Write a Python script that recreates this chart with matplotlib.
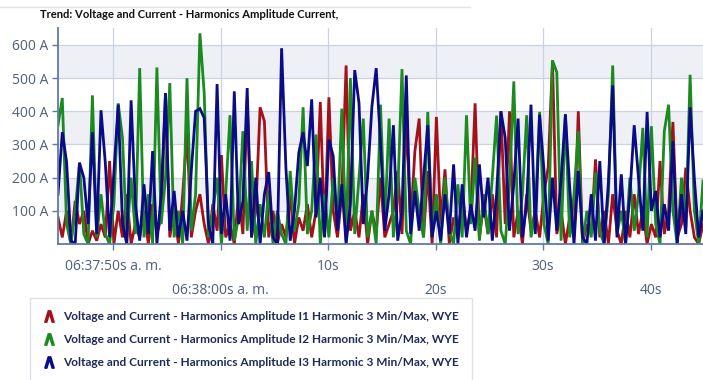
import matplotlib
matplotlib.use("Agg")
import matplotlib.pyplot as plt
from matplotlib.lines import Line2D
import numpy as np

# sample spacing and start, seconds relative to 06:37:50
start_offset = -5.12
step = 0.4

i1_amps = [80, 20, 100, 0, 130, 60, 100, 0, 40, 10,
           60, 20, 250, 0, 100, 20, 150, 0, 60, 20,
           100, 0, 120, 30, 80, 455, 20, 100, 0, 150,
           338, 20, 100, 150, 60, 0, 120, 40, 268, 20,
           60, 0, 150, 30, 436, 20, 100, 412, 370, 20,
           100, 0, 60, 20, 150, 0, 80, 40, 120, 20,
           100, 428, 30, 442, 100, 20, 150, 538, 40, 100,
           20, 150, 0, 100, 30, 200, 20, 60, 100, 220,
           30, 378, 60, 280, 378, 20, 220, 0, 383, 60,
           225, 0, 80, 20, 150, 40, 100, 424, 20, 120,
           30, 150, 20, 400, 60, 400, 20, 100, 0, 150,
           40, 100, 20, 150, 232, 553, 30, 100, 0, 80,
           20, 400, 0, 60, 30, 255, 20, 100, 0, 150,
           40, 0, 100, 20, 150, 30, 100, 0, 60, 20,
           250, 30, 100, 368, 20, 60, 230, 100, 20, 0,
           60]

i2_amps = [358, 440, 60, 0, 100, 245, 30, 0, 448, 20,
           150, 30, 0, 120, 424, 320, 10, 200, 30, 530,
           20, 150, 0, 532, 60, 200, 485, 20, 100, 0,
           500, 40, 150, 635, 455, 20, 100, 200, 0, 150,
           388, 10, 80, 340, 40, 250, 0, 120, 20, 160,
           0, 100, 30, 0, 220, 40, 120, 412, 30, 100,
           330, 0, 150, 20, 200, 60, 408, 10, 500, 30,
           200, 378, 20, 100, 0, 420, 60, 378, 20, 150,
           527, 40, 0, 200, 100, 20, 398, 30, 150, 0,
           200, 40, 0, 180, 20, 388, 60, 260, 10, 150,
           30, 200, 387, 40, 0, 180, 490, 30, 150, 388,
           20, 100, 398, 60, 0, 553, 518, 10, 391, 20,
           150, 340, 0, 100, 20, 215, 40, 0, 150, 538,
           30, 100, 0, 200, 40, 150, 350, 20, 355, 60,
           0, 340, 420, 100, 0, 200, 50, 510, 100, 0,
           190]

i3_amps = [150, 337, 247, 10, 0, 245, 200, 60, 337, 30,
           403, 245, 20, 217, 420, 60, 0, 433, 120, 10,
           180, 30, 280, 0, 150, 455, 40, 160, 20, 100,
           10, 220, 400, 408, 380, 60, 0, 482, 30, 150,
           10, 460, 60, 130, 470, 20, 200, 0, 150, 217,
           20, 0, 590, 230, 10, 100, 275, 337, 235, 436,
           80, 200, 20, 315, 265, 40, 180, 0, 120, 524,
           425, 60, 200, 414, 530, 305, 40, 150, 358, 10,
           100, 508, 30, 160, 40, 200, 358, 20, 100, 10,
           150, 30, 240, 0, 180, 20, 120, 40, 240, 80,
           200, 10, 150, 400, 320, 40, 180, 378, 20, 120,
           420, 30, 390, 225, 10, 200, 40, 195, 391, 170,
           0, 220, 20, 0, 150, 10, 250, 0, 185, 478,
           20, 210, 0, 150, 358, 200, 40, 398, 100, 160,
           20, 120, 40, 310, 0, 150, 30, 412, 195, 20,
           100]

series_names = [
    "Voltage and Current - Harmonics Amplitude I1 Harmonic 3 Min/Max, WYE",
    "Voltage and Current - Harmonics Amplitude I2 Harmonic 3 Min/Max, WYE",
    "Voltage and Current - Harmonics Amplitude I3 Harmonic 3 Min/Max, WYE",
]
series_colors = ["#a3111a", "#1b8a1f", "#0b0b88"]

row1_ticks = [0, 20, 40]
row1_labels = ["06:37:50s a. m.", "10s", "30s"]
row2_ticks = [10, 30, 50]
row2_labels = ["06:38:00s a. m.", "20s", "40s"]
y_ticks = [100, 200, 300, 400, 500, 600]
y_labels = ["100 A", "200 A", "300 A", "400 A", "500 A", "600 A"]

plt.rcParams["font.family"] = ["Open Sans", "DejaVu Sans"]
narrow = ["Lato", "DejaVu Sans"]

axis_col = "#6079a8"
text_col = "#4e5f7d"
grid_col = "#cbd3e2"

fig = plt.figure(figsize=(7.03, 3.80), dpi=100)
ax = fig.add_axes([58 / 703, 1 - 244 / 380, 645 / 703, 216 / 380])

t = start_offset + step * np.arange(len(i1_amps))

# alternating bands
for lo in (100, 300, 500):
    ax.axhspan(lo, lo + 100, color="#eef0f5", zorder=0, lw=0)

for vals, col in zip([i1_amps, i2_amps, i3_amps], series_colors):
    ax.plot(t, vals, color=col, lw=2.0, zorder=3, solid_joinstyle="miter")

ax.set_xlim(start_offset, start_offset + step * (len(i1_amps) - 1))
ax.set_ylim(0, 651)

ax.set_yticks(y_ticks)
ax.set_yticklabels(y_labels)
ax.set_xticks(row1_ticks)
ax.set_xticklabels(row1_labels)
ax.set_xticks(row2_ticks, minor=True)
ax.set_xticklabels(row2_labels, minor=True)

ax.tick_params(axis="y", colors=axis_col, labelcolor=text_col, labelsize=10,
               length=4, width=1, pad=3)
ax.tick_params(axis="x", which="major", colors=axis_col, labelcolor=text_col,
               labelsize=10, length=4, width=1, pad=7)
ax.tick_params(axis="x", which="minor", colors=axis_col, labelcolor=text_col,
               labelsize=10, length=4, width=1, pad=24)

ax.grid(True, which="both", axis="x", color=grid_col, lw=0.9, zorder=1)
ax.grid(True, which="major", axis="y", color=grid_col, lw=0.9, zorder=1)
ax.set_axisbelow(True)

for side in ("top", "right"):
    ax.spines[side].set_visible(False)
for side in ("left", "bottom"):
    ax.spines[side].set_color(axis_col)
    ax.spines[side].set_linewidth(1.3)
    ax.spines[side].set_zorder(4)

fig.text(40 / 703, 1 - 15 / 380,
         "Trend: Voltage and Current - Harmonics Amplitude Current,",
         fontsize=8.1, fontweight="bold", color="#111111", va="center",
         family=narrow)
fig.add_artist(Line2D([0, 470 / 703], [1 - 7 / 380, 1 - 7 / 380],
                      color="#dfe3ea", lw=1))

handles = [Line2D([], [], color=c, marker=r"$\wedge$", linestyle="None",
                  markersize=8, markeredgewidth=1.2) for c in series_colors]
leg = fig.legend(handles, series_names, loc="upper left",
                 bbox_to_anchor=(30 / 703, 1 - 298 / 380),
                 frameon=True, fancybox=False,
                 prop={"family": narrow, "size": 8.6, "weight": "bold"},
                 handlelength=1.0, handletextpad=0.7, labelspacing=1.0,
                 borderpad=1.1, borderaxespad=0)
leg.get_frame().set_edgecolor("#d5dae3")
leg.get_frame().set_linewidth(1)
for txt in leg.get_texts():
    txt.set_color("#1d2b55")

fig.savefig("out.png", dpi=100)
